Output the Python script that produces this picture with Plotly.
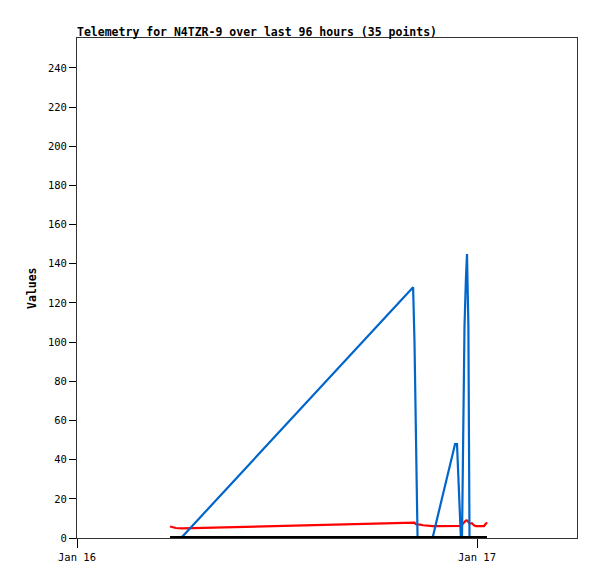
import plotly.graph_objects as go

title_text = "Telemetry for N4TZR-9 over last 96 hours (35 points)"
y_title = "Values"

times = [
    "2024-01-16 05:35", "2024-01-16 05:56", "2024-01-16 06:18", "2024-01-16 20:10",
    "2024-01-16 20:15", "2024-01-16 20:20", "2024-01-16 20:26", "2024-01-16 20:35",
    "2024-01-16 20:46", "2024-01-16 21:00", "2024-01-16 21:20", "2024-01-16 21:36",
    "2024-01-16 21:50", "2024-01-16 22:08", "2024-01-16 22:23", "2024-01-16 22:41",
    "2024-01-16 22:48", "2024-01-16 22:53", "2024-01-16 22:59", "2024-01-16 23:02",
    "2024-01-16 23:06", "2024-01-16 23:10", "2024-01-16 23:13", "2024-01-16 23:15",
    "2024-01-16 23:20", "2024-01-16 23:24", "2024-01-16 23:29", "2024-01-16 23:31",
    "2024-01-16 23:33", "2024-01-16 23:42", "2024-01-16 23:49", "2024-01-16 23:56",
    "2024-01-17 00:11", "2024-01-17 00:25", "2024-01-17 00:36",
]

blue_values = [
    0, 0, 0.5, 128, 100, 55, 0, 0, 0, 0, 0, 9.6, 18, 29, 37, 48, 48, 30, 16, 0,
    0, 60, 84, 108, 132, 145, 108, 36, 0, 0, 0, 0, 0, 0, 0,
]

red_values = [
    5.9, 5.1, 4.9, 7.9, 7.8, 7.0, 7.0, 6.8, 6.5, 6.2, 6.1, 6.1, 6.1, 6.1, 6.1,
    6.1, 6.1, 6.1, 6.1, 6.2, 6.8, 7.5, 8.0, 8.3, 8.9, 9.0, 8.0, 7.6, 7.5, 7.5,
    6.5, 6.1, 6.1, 6.1, 8.0,
]

black_values = [0] * 35

x_tick_vals = ["2024-01-16 00:00", "2024-01-17 00:00"]
x_tick_text = ["Jan 16", "Jan 17"]
x_range = ["2024-01-16 00:00", "2024-01-17 06:00"]
y_ticks = [0, 20, 40, 60, 80, 100, 120, 140, 160, 180, 200, 220, 240]
y_range = [0, 255.3]

mono = "DejaVu Sans Mono"

fig = go.Figure()
fig.add_trace(go.Scatter(x=times, y=red_values, mode="lines",
                         line=dict(color="#ff0000", width=2.2), showlegend=False))
fig.add_trace(go.Scatter(x=times, y=blue_values, mode="lines",
                         line=dict(color="#0066cc", width=2.2), showlegend=False))
fig.add_trace(go.Scatter(x=times, y=black_values, mode="lines",
                         line=dict(color="#000000", width=4), showlegend=False))

fig.update_layout(
    width=597, height=579,
    margin=dict(l=77, r=20, t=38, b=41),
    paper_bgcolor="white", plot_bgcolor="white",
    title=dict(text="<b>" + title_text + "</b>", x=77 / 597, xanchor="left",
               xref="container", y=1 - 32 / 579, yanchor="middle", yref="container",
               font=dict(family=mono, size=11.5, color="#000")),
    xaxis=dict(type="date", range=x_range, tickvals=x_tick_vals, ticktext=x_tick_text,
               showgrid=False, zeroline=False, showline=True, linecolor="#333",
               linewidth=1, mirror=True, ticks="outside", ticklen=9, tickcolor="#000",
               tickfont=dict(family=mono, size=10.5, color="#000")),
    yaxis=dict(range=y_range, tickvals=y_ticks, showgrid=False, zeroline=False,
               showline=True, linecolor="#333", linewidth=1, mirror=True,
               ticks="outside", ticklen=7, tickcolor="#000", ticksuffix=" ",
               tickfont=dict(family=mono, size=10.5, color="#000")),
    annotations=[dict(text="<b>" + y_title + "</b>", textangle=-90, xref="paper", yref="paper",
                      x=-45 / 500, y=0.5, xanchor="center", yanchor="middle", showarrow=False,
                      font=dict(family=mono, size=11.5, color="#000"))],
)

fig.write_html("out.html", config={"displayModeBar": False},
               post_script="document.body.style.margin='0';document.body.style.padding='0';")
